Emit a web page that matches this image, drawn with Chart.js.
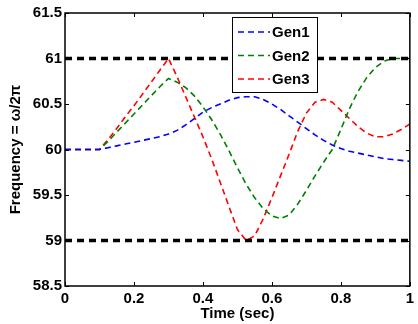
<!DOCTYPE html>
<html>
<head>
<meta charset="utf-8">
<script src="https://cdn.jsdelivr.net/npm/chart.js@4/dist/chart.umd.min.js"></script>
<style>
  html, body { margin: 0; padding: 0; background: #fff; }
  #wrap { width: 418px; height: 324px; }
</style>
</head>
<body>
<div id="wrap"><canvas id="freqChart" width="418" height="324"></canvas></div>
<script>
// time samples (sec)
const times = [0, 0.025, 0.05, 0.075, 0.1, 0.125, 0.15, 0.175, 0.2, 0.225, 0.25, 0.275, 0.3,
    0.325, 0.35, 0.375, 0.4, 0.425, 0.45, 0.475, 0.5, 0.525, 0.55, 0.575, 0.6, 0.625, 0.65,
    0.675, 0.7, 0.725, 0.75, 0.775, 0.8, 0.825, 0.85, 0.875, 0.9, 0.925, 0.95, 0.975, 1.0];

const gen1 = [60, 60, 60, 60, 60, 60.02, 60.04, 60.06, 60.08, 60.10, 60.12, 60.14, 60.17,
    60.21, 60.27, 60.34, 60.41, 60.46, 60.50, 60.54, 60.57, 60.58, 60.58, 60.55, 60.50, 60.44, 60.37,
    60.30, 60.23, 60.16, 60.10, 60.05, 60.01, 59.98, 59.96, 59.94, 59.92, 59.90, 59.89, 59.88, 59.87];

const gen2 = [60, 60, 60, 60, 60, 60.09, 60.19, 60.29, 60.39, 60.49, 60.59, 60.69, 60.78,
    60.74, 60.68, 60.59, 60.47, 60.33, 60.17, 59.99, 59.80, 59.62, 59.47, 59.35, 59.27, 59.24, 59.28,
    59.40, 59.55, 59.71, 59.86, 60.00, 60.22, 60.45, 60.64, 60.79, 60.90, 60.97, 61.0, 61.0, 61.0];

const gen3 = [60, 60, 60, 60, 60, 60.11, 60.23, 60.36, 60.48, 60.61, 60.74, 60.87, 61.0,
    60.80, 60.58, 60.36, 60.14, 59.90, 59.64, 59.38, 59.12, 59.0, 59.05, 59.24, 59.47, 59.71, 59.95,
    60.20, 60.40, 60.52, 60.55, 60.52, 60.43, 60.34, 60.25, 60.18, 60.14, 60.14, 60.17, 60.22, 60.28];

const limitTimes = [0, 1];
const upperLimit = [61, 61];
const lowerLimit = [59, 59];

const genLabels = ['Gen1', 'Gen2', 'Gen3'];
const genColors = ['#0000ff', '#008000', '#ff0000'];

const FONT = "'Liberation Sans', Arial, Helvetica, sans-serif";

function toPoints(xs, ys) {
    return xs.map((x, i) => ({ x: x, y: ys[i] }));
}

// matlab style tick text: 61 not 61.0
function tickText(v) {
    return String(+Number(v).toFixed(2));
}

const genSeries = [gen1, gen2, gen3];
const datasets = genSeries.map((ys, i) => ({
    label: genLabels[i],
    data: toPoints(times, ys),
    borderColor: genColors[i],
    borderWidth: 1.6,
    borderDash: [6, 4],
    pointRadius: 0,
    tension: 0,
    fill: false
}));

[upperLimit, lowerLimit].forEach(ys => {
    datasets.unshift({
        label: 'limit',
        data: toPoints(limitTimes, ys),
        borderColor: '#000',
        borderWidth: 3.5,
        borderDash: [7, 5],
        pointRadius: 0,
        fill: false
    });
});

// box around the plot with inward ticks on all four sides
const frameTicks = {
    id: 'frameTicks',
    afterDatasetsDraw(chart) {
        const { ctx, chartArea: a, scales } = chart;
        ctx.save();
        ctx.strokeStyle = '#000';
        ctx.lineWidth = 1;
        const len = 4;
        ctx.beginPath();
        scales.x.ticks.forEach(t => {
            const px = Math.round(scales.x.getPixelForValue(t.value)) + 0.5;
            ctx.moveTo(px, a.bottom); ctx.lineTo(px, a.bottom - len);
            ctx.moveTo(px, a.top); ctx.lineTo(px, a.top + len);
        });
        scales.y.ticks.forEach(t => {
            const py = Math.round(scales.y.getPixelForValue(t.value)) + 0.5;
            ctx.moveTo(a.left, py); ctx.lineTo(a.left + len, py);
            ctx.moveTo(a.right, py); ctx.lineTo(a.right - len, py);
        });
        ctx.stroke();
        ctx.lineWidth = 1.5;
        ctx.strokeRect(a.left, a.top, a.right - a.left, a.bottom - a.top);
        ctx.restore();
    }
};

// legend box drawn inside the plot, matlab style
const boxLegend = {
    id: 'boxLegend',
    afterDraw(chart) {
        const { ctx } = chart;
        const gens = chart.data.datasets.filter(d => d.label !== 'limit');
        const x0 = 232, y0 = 17, w = 85, h = 75;
        ctx.save();
        ctx.fillStyle = '#fff';
        ctx.fillRect(x0, y0, w, h);
        ctx.strokeStyle = '#000';
        ctx.lineWidth = 1;
        ctx.strokeRect(x0 + 0.5, y0 + 0.5, w, h);
        ctx.font = 'bold 15px ' + FONT;
        ctx.textBaseline = 'middle';
        ctx.fillStyle = '#000';
        gens.forEach((d, i) => {
            const y = y0 + 15 + i * 23.5;
            ctx.strokeStyle = d.borderColor;
            ctx.lineWidth = 1.6;
            ctx.setLineDash([6, 4]);
            ctx.beginPath();
            ctx.moveTo(x0 + 6, y);
            ctx.lineTo(x0 + 38, y);
            ctx.stroke();
            ctx.setLineDash([]);
            ctx.fillText(d.label, x0 + 40, y + 1);
        });
        ctx.restore();
    }
};

new Chart(document.getElementById('freqChart'), {
    type: 'line',
    data: { datasets: datasets },
    options: {
        responsive: false,
        animation: false,
        layout: { padding: { top: 13, right: 2, left: 0, bottom: 0 } },
        plugins: { legend: { display: false }, tooltip: { enabled: false } },
        scales: {
            x: {
                type: 'linear',
                min: 0, max: 1,
                grid: { display: false, drawTicks: false },
                border: { display: false },
                ticks: { stepSize: 0.2, padding: 4, color: '#000', callback: tickText,
                    font: { family: FONT, size: 15, weight: 'bold' } },
                title: { display: true, text: 'Time (sec)', color: '#000', padding: { top: 2, bottom: 1 },
                    font: { family: FONT, size: 15, weight: 'bold' } },
                afterFit: s => { s.height = 38; }
            },
            y: {
                min: 58.5, max: 61.5,
                grid: { display: false, drawTicks: false },
                border: { display: false },
                ticks: { stepSize: 0.5, padding: 3, color: '#000', callback: tickText,
                    font: { family: FONT, size: 15, weight: 'bold' } },
                title: { display: true, text: 'Frequency = ω/2π', color: '#000', padding: { top: 7, bottom: 0 },
                    font: { family: FONT, size: 15, weight: 'bold' } },
                afterFit: s => { s.width = 65; }
            }
        }
    },
    plugins: [frameTicks, boxLegend]
});
</script>
</body>
</html>
